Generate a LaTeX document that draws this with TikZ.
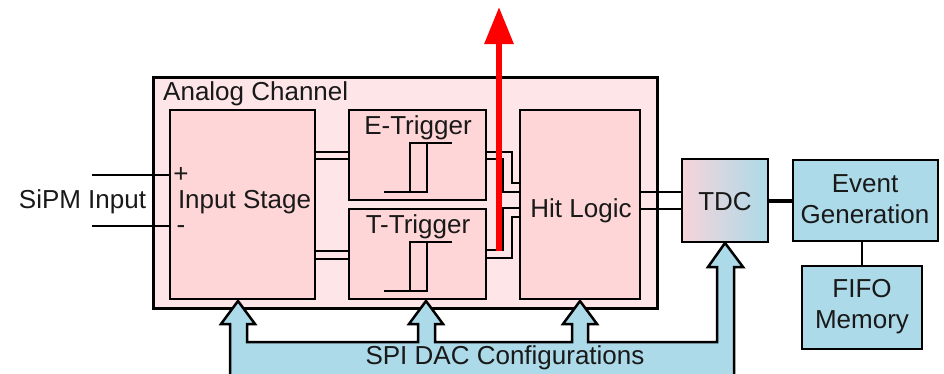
\documentclass[tikz,border=0pt]{standalone}
\usepackage{fontspec}
\setmainfont{Liberation Sans}
\usetikzlibrary{arrows.meta}
\definecolor{pinkbox}{RGB}{255,214,215}
\definecolor{pinkbg}{RGB}{253,229,232}
\definecolor{bluebox}{RGB}{172,218,232}
\definecolor{tdcpink}{RGB}{246,212,218}
\definecolor{txt}{RGB}{25,25,25}
\begin{document}
\begin{tikzpicture}[x=1pt,y=-1pt,
  box/.style={draw=black, line width=2.8pt, inner sep=0pt, outer sep=0pt},
  wire/.style={draw=black, line width=2.5pt},
  lbl/.style={font=\fontsize{26}{31}\selectfont, text=txt, inner sep=0pt, anchor=base}]
\useasboundingbox (0,0) rectangle (944,373);
\clip (0,0) rectangle (944,373);
\fill[white] (0,0) rectangle (944,373);

% Analog channel
\node[box, line width=3pt, fill=pinkbg, minimum width=504pt, minimum height=231pt] (ac) at (405,192.5) {};
\node[lbl, anchor=base west] (actxt) at (163,100) {Analog Channel};

% inner boxes
\node[box, fill=pinkbox, minimum width=145pt, minimum height=189pt] (is) at (242.5,204.5) {};
\node[box, fill=pinkbox, minimum width=137pt, minimum height=90pt] (et) at (417.5,155) {};
\node[box, fill=pinkbox, minimum width=137pt, minimum height=90pt] (tt) at (417.5,254) {};
\node[box, fill=pinkbox, minimum width=120pt, minimum height=189pt] (hl) at (580,204.5) {};
\node[box, left color=tdcpink, right color=bluebox, minimum width=86pt, minimum height=83pt] (tdc) at (725,200.5) {};
\node[box, fill=bluebox, minimum width=145pt, minimum height=81pt] (eg) at (865.5,200.5) {};
\node[box, fill=bluebox, minimum width=120pt, minimum height=83pt] (fifo) at (862,307.5) {};

% texts
\node[lbl] (sipm) at (82.5,208) {SiPM Input};
\node[lbl] (istxt) at (244.5,208) {Input Stage};
\node[lbl] (plus) at (181,182.5) {+};
\node[lbl] (minus) at (181,233) {-};
\node[lbl] (ettxt) at (418,134) {E-Trigger};
\node[lbl] (tttxt) at (418,233) {T-Trigger};
\node[lbl] (hltxt) at (581,217) {Hit Logic};
\node[lbl] (tdctxt) at (725,210) {TDC};
\node[lbl] (egtxt1) at (865,192) {Event};
\node[lbl] (egtxt2) at (865,223) {Generation};
\node[lbl] (fifotxt1) at (862,297) {FIFO};
\node[lbl] (fifotxt2) at (862,328) {Memory};

% SiPM input wires
\coordinate (inp) at (92,175);
\coordinate (inm) at (92,226);
\draw[wire] (inp) -- (is.west |- inp);
\draw[wire] (inm) -- (is.west |- inm);

% Input stage -> triggers
\draw[wire] (is.east |- 0,152) -- (et.west |- 0,152);
\draw[wire] (is.east |- 0,159) -- (et.west |- 0,159);
\draw[wire] (is.east |- 0,251) -- (tt.west |- 0,251);
\draw[wire] (is.east |- 0,259) -- (tt.west |- 0,259);

% hysteresis symbols
\foreach \n/\dy in {et/0, tt/99} {
  \draw[wire] (384,192+\dy) -- (427,192+\dy) -- (427,143+\dy) -- (410,143+\dy) -- (410,192+\dy);
  \draw[wire] (410,143+\dy) -- (452,143+\dy);
}

% triggers -> hit logic
\draw[wire] (et.east |- 0,152) -- (512,152) -- (512,183) -- (hl.west |- 0,183);
\draw[wire] (et.east |- 0,159) -- (503,159) -- (503,192) -- (hl.west |- 0,192);
\draw[wire] (tt.east |- 0,250) -- (503,250) -- (503,208) -- (hl.west |- 0,208);
\draw[wire] (tt.east |- 0,258) -- (512,258) -- (512,217) -- (hl.west |- 0,217);

% hit logic -> TDC
\draw[wire] (hl.east |- 0,192) -- (tdc.west |- 0,192);
\draw[wire] (hl.east |- 0,209) -- (tdc.west |- 0,209);

% TDC -> EG -> FIFO
\draw[draw=black, line width=4pt] (tdc.east) -- (eg.west |- tdc.east);
\draw[wire] (fifo.north) -- (fifo.north |- eg.south);

% red arrow
\coordinate (rbot) at (499,251);
\coordinate (rtop) at (499,7);
\draw[red, line width=6pt, -{Triangle[width=28pt,length=37pt]}] (rbot) -- (rtop);

% SPI DAC configuration bus
\draw[fill=bluebox, line width=2.5pt, line join=miter]
  (230,380) -- (230,324) -- (221,324) -- (238,301) -- (255,324) -- (247,324) -- (247,342)
  -- (418,342) -- (418,324) -- (409,324) -- (426,301) -- (443,324) -- (435,324) -- (435,342)
  -- (572,342) -- (572,324) -- (563,324) -- (580,301) -- (597,324) -- (588,324) -- (588,342)
  -- (717,342) -- (717,267) -- (708,267) -- (725,243) -- (743,267) -- (734,267) -- (734,380) -- cycle;
\node[lbl] (spi) at (505,364) {SPI DAC Configurations};
\end{tikzpicture}
\end{document}
